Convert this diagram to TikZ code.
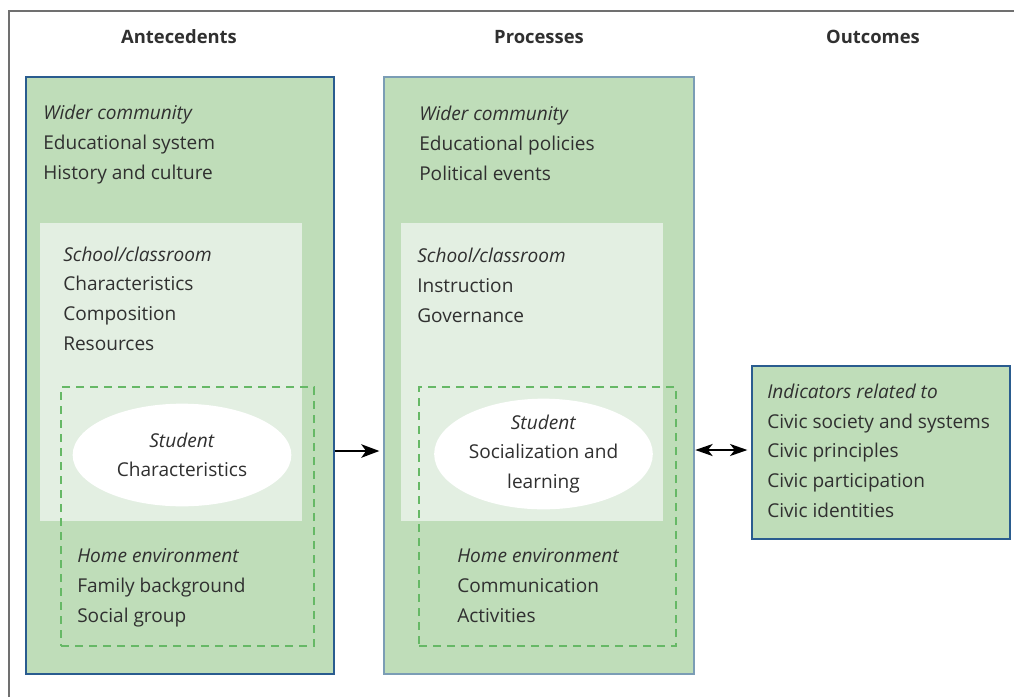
\documentclass[tikz,border=0pt]{standalone}
\usepackage{fontspec}
\setmainfont{Open Sans}
\usetikzlibrary{fit,shapes.geometric,arrows.meta}
\definecolor{boxgreen}{HTML}{BFDDB9}
\definecolor{lightgreen}{HTML}{E3EFE2}
\definecolor{dashgreen}{HTML}{66B866}
\definecolor{darkblue}{HTML}{2A5C8F}
\definecolor{greyblue}{HTML}{7B9DB5}
\definecolor{txt}{HTML}{303030}
\definecolor{framecol}{HTML}{707070}
\tikzset{
  bigbox/.style={fill=boxgreen, inner sep=0pt, line width=0.9pt},
  lightbox/.style={fill=lightgreen, inner sep=0pt},
  dashbox/.style={draw=dashgreen, dash pattern=on 6pt off 4.5pt, line width=1.5pt, inner sep=0pt},
  stud/.style={ellipse, fill=white, inner sep=0pt, minimum width=164pt, minimum height=77pt, align=center, text=txt, font=\fontsize{14.3}{22.2}\selectfont},
  body/.style={anchor=base west, inner sep=0pt, align=left, text=txt, font=\fontsize{14.3}{22.2}\selectfont},
  head/.style={anchor=base, inner sep=0pt, text=txt, font=\fontsize{13.8}{15}\selectfont\bfseries},
  arr/.style={line width=2pt, -{Stealth[length=13.5pt,width=10pt,inset=3.5pt]}},
  darr/.style={line width=1.5pt, {Stealth[length=13pt,width=9pt,inset=3.5pt]}-{Stealth[length=13pt,width=9pt,inset=3.5pt]}}
}
\begin{document}
\begin{tikzpicture}[x=0.75pt,y=-0.75pt]
\useasboundingbox (0,0) rectangle (1014,697);
% outer frame
\draw[framecol, line width=0.9pt] (9,697) -- (9,11) -- (1014,11);
% headers
\node[head] (hA) at (179,43) {Antecedents};
\node[head] (hP) at (539,43) {Processes};
\node[head] (hO) at (873,43) {Outcomes};
% big boxes
\node[bigbox, draw=darkblue, fit={(26,77) (334,674)}] (ante) {};
\node[bigbox, draw=greyblue, fit={(384,77) (694,674)}] (proc) {};
\node[bigbox, draw=darkblue, fit={(752,366) (1010,539)}] (outc) {};
% school rectangles
\node[lightbox, fit={(40,223) (302,521)}] (schA) {};
\node[lightbox, fit={(401,223) (663,521)}] (schP) {};
% dashed home rectangles
\node[dashbox, fit={(61,387) (314,646)}] (homA) {};
\node[dashbox, fit={(419,387) (676,646)}] (homP) {};
% students
\node[stud] (stuA) at (182,455) {\textit{Student}\\Characteristics};
\node[stud] (stuP) at (543.5,454) {\textit{Student}\\Socialization and\\learning};
% texts antecedents (positions are the baseline of the last line)
\node[body] (wA) at (43,179) {\textit{Wider community}\\Educational system\\History and culture};
\node[body] (sA) at (63,350) {\textit{School/classroom}\\Characteristics\\Composition\\Resources};
\node[body] (eA) at (77,622) {\textit{Home environment}\\Family background\\Social group};
% texts processes
\node[body] (wP) at (419,180) {\textit{Wider community}\\Educational policies\\Political events};
\node[body] (sP) at (417,322) {\textit{School/classroom}\\Instruction\\Governance};
\node[body] (eP) at (457,622) {\textit{Home environment}\\Communication\\Activities};
% outcomes
\node[body] (tO) at (767,517) {\textit{Indicators related to}\\Civic society and systems\\Civic principles\\Civic participation\\Civic identities};
% arrows
\coordinate (a1) at (ante.east |- 0,451);
\coordinate (a2) at (proc.west |- 0,451);
\draw[arr, shorten >=3pt] (a1) -- (a2);
\coordinate (b1) at (proc.east |- 0,450);
\coordinate (b2) at (outc.west |- 0,450);
\draw[darr, shorten >=3pt, shorten <=0.5pt] (b1) -- (b2);
\end{tikzpicture}
\end{document}
